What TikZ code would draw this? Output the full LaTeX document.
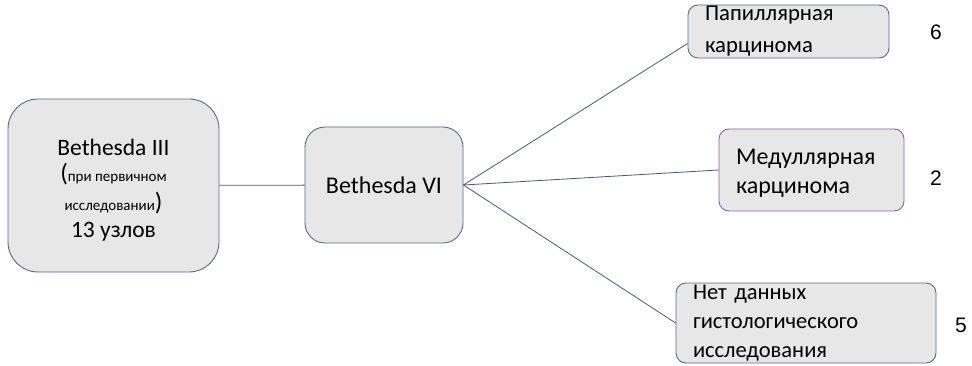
\documentclass[tikz,border=0pt]{standalone}
\usepackage{fontspec}
\setmainfont{Carlito}
\newfontfamily\numfont{Liberation Sans}
\usetikzlibrary{positioning,calc}
\definecolor{boxfill}{HTML}{E7E7E7}
\definecolor{boxline}{HTML}{5A6A7E}
\definecolor{medline}{HTML}{8062B0}
\definecolor{linkline}{HTML}{4A5A70}

\begin{document}
\begin{tikzpicture}[x=1pt,y=-1pt,
        gbox/.style={draw=boxline, fill=boxfill, line width=0.9pt, inner sep=0pt},
        leaf/.style={gbox, rounded corners=10pt, align=left, inner xsep=17pt},
        count/.style={font=\numfont\fontsize{21}{24}\selectfont},
        link/.style={draw=linkline, line width=0.8pt}]
        \useasboundingbox (0,0) rectangle (972,366);
        \node[gbox, rounded corners=30pt, minimum width=211pt, minimum height=173pt,
            align=center, font=\fontsize{23.5}{31}\selectfont] (b3) at (113.5,185.5)
            {\rule{0pt}{26pt}Bethesda III\\[-5pt]
             {\fontsize{25}{31}\selectfont(}{\fontsize{15}{31}\selectfont при первичном}\\[-2pt]
             {\fontsize{15}{31}\selectfont исследовании}{\fontsize{25}{31}\selectfont)}\\[-4pt]
             13 узлов};
        \node[gbox, rounded corners=20pt, minimum width=158pt, minimum height=116pt,
            font=\fontsize{24}{28}\selectfont] (b6) at (384,185) {Bethesda VI};
        \node[leaf, text width=167pt, minimum height=53pt,
            font=\fontsize{22.7}{32}\selectfont] (pap) at (788.5,31.5)
            {Папиллярная\\карцинома};
        \node[leaf, draw=medline, text width=151pt, minimum height=82pt,
            font=\fontsize{24}{29}\selectfont] (med) at (811.5,170)
            {\rule{0pt}{21pt}Медуллярная\\карцинома};
        \node[leaf, text width=226pt, minimum height=80pt,
            font=\fontsize{22.5}{29}\selectfont] (nd) at (806,323)
            {Нет данных\\гистологического\\исследования};
        \node[count] (n6) at (936,32) {6};
        \node[count] (n2) at (936,178) {2};
        \node[count] (n5) at (961,325) {5};
        % connectors
        \draw[link] (b3) -- (b6);
        \draw[link] (b6.east) -- ([yshift=-12pt]pap.west);
        \draw[link] (b6.east) -- (med.west);
        \draw[link] (b6.east) -- (nd.west);
\end{tikzpicture}
\end{document}
